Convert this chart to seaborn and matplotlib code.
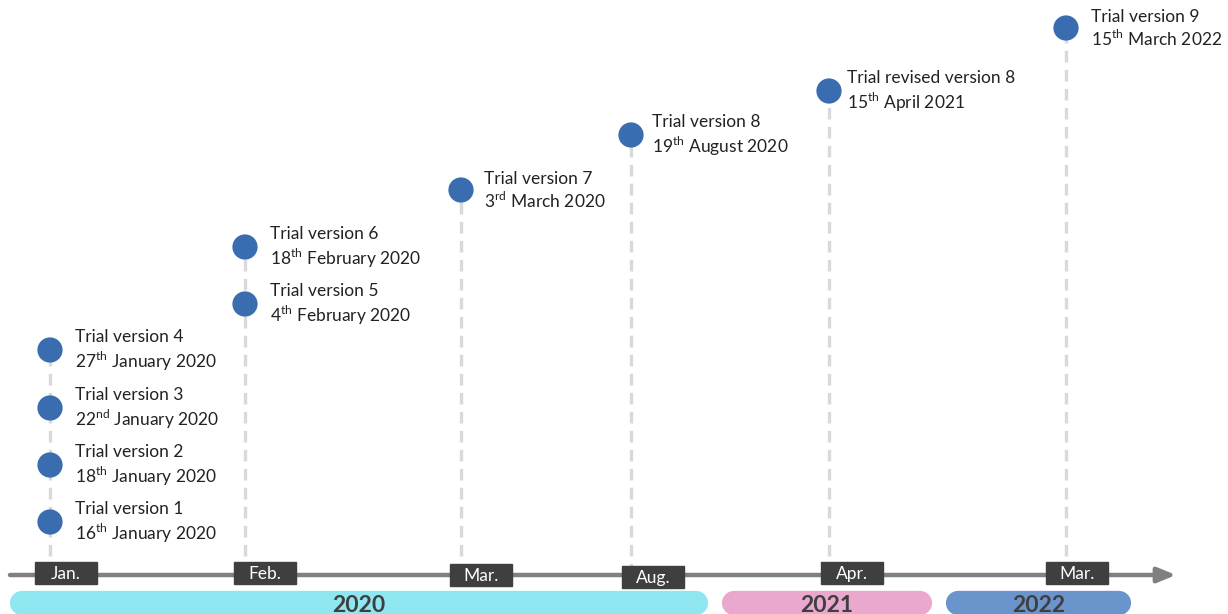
import matplotlib
matplotlib.use('Agg')
import matplotlib.pyplot as plt
import seaborn as sns
import pandas as pd

# timeline data
versions = ['Trial version 1', 'Trial version 2', 'Trial version 3', 'Trial version 4',
            'Trial version 5', 'Trial version 6', 'Trial version 7', 'Trial version 8',
            'Trial revised version 8', 'Trial version 9']
day = ['16', '18', '22', '27', '4', '18', '3', '19', '15', '15']
suffix = ['th', 'th', 'nd', 'th', 'th', 'th', 'rd', 'th', 'th', 'th']
month_year = ['January 2020', 'January 2020', 'January 2020', 'January 2020',
              'February 2020', 'February 2020', 'March 2020', 'August 2020',
              'April 2021', 'March 2022']
slot = [0, 0, 0, 0, 1, 1, 2, 3, 4, 5]
level = [53, 110, 167, 225, 271, 328, 385, 440, 484, 547]

months = ['Jan.', 'Feb.', 'Mar.', 'Aug.', 'Apr.', 'Mar.']
years = ['2020', '2021', '2022']
year_colors = ['#8DE6F0', '#EBA8CF', '#6A94CC']

# layout (pixels)
slot_x = [50, 245, 461, 631, 829, 1066]
label_dx = [25, 25, 23, 21, 18, 25]
box_dx = [16, 20, 20, 22, 23, 11]
box_dy = [2, 2, 0, -2, 2, 2]
year_span = [(22, 696), (734, 920), (958, 1119)]

sns.set_style('white')
plt.rcParams['font.family'] = ['Lato', 'DejaVu Sans']
plt.rcParams['mathtext.fontset'] = 'custom'
plt.rcParams['mathtext.rm'] = 'Lato'

df = pd.DataFrame({'version': versions, 'slot': slot, 'level': level})
df['x'] = [slot_x[s] for s in df['slot']]

fig = plt.figure(figsize=(12.28, 6.14), dpi=100)
ax = fig.add_axes([0, 0, 1, 1])
ax.set_xlim(0, 1228)
ax.set_ylim(-39, 575)
ax.axis('off')

# dashed stems
for s, g in df.groupby('slot'):
    ax.vlines(slot_x[s], 0, g['level'].max(), color='#D9D9D9', lw=2.4,
              linestyles=(0, (3.5, 2.2)), zorder=1)

# main arrow
ax.annotate('', xy=(1176, 0), xytext=(10, 0),
            arrowprops=dict(arrowstyle='-|>,head_length=1.1,head_width=0.45',
                            color='#808080', lw=3.2, shrinkA=0, shrinkB=0), zorder=2)

sns.scatterplot(data=df, x='x', y='level', s=330, color='#3A6DB0', edgecolor='none',
                ax=ax, zorder=4, legend=False)

for i, r in df.iterrows():
    txt = f"{versions[i]}\n{day[i]}$^{{\\mathrm{{{suffix[i]}}}}}$ {month_year[i]}"
    ax.text(r['x'] + label_dx[r['slot']], r['level'] - 1, txt, fontsize=12.5,
            color='#222222', va='center', ha='left', linespacing=1.25, zorder=5)

# month boxes
for k, m in enumerate(months):
    cx = slot_x[k] + box_dx[k]
    cy = box_dy[k]
    ax.add_patch(plt.Rectangle((cx - 31, cy - 11), 62, 22, color='#3F3F3F', zorder=3))
    ax.text(cx, cy - 1, m, color='white', fontsize=12.5, ha='center', va='center', zorder=4)

# year bars
for (x0, x1), yr, c in zip(year_span, years, year_colors):
    ax.plot([x0, x1], [-28, -28], color=c, lw=17.5, solid_capstyle='round', zorder=2)
    ax.text((x0 + x1) / 2, -30, yr, fontsize=16.5, fontweight='bold', color='#3F3F3F',
            ha='center', va='center', zorder=3)

fig.savefig('out.png', dpi=100)
